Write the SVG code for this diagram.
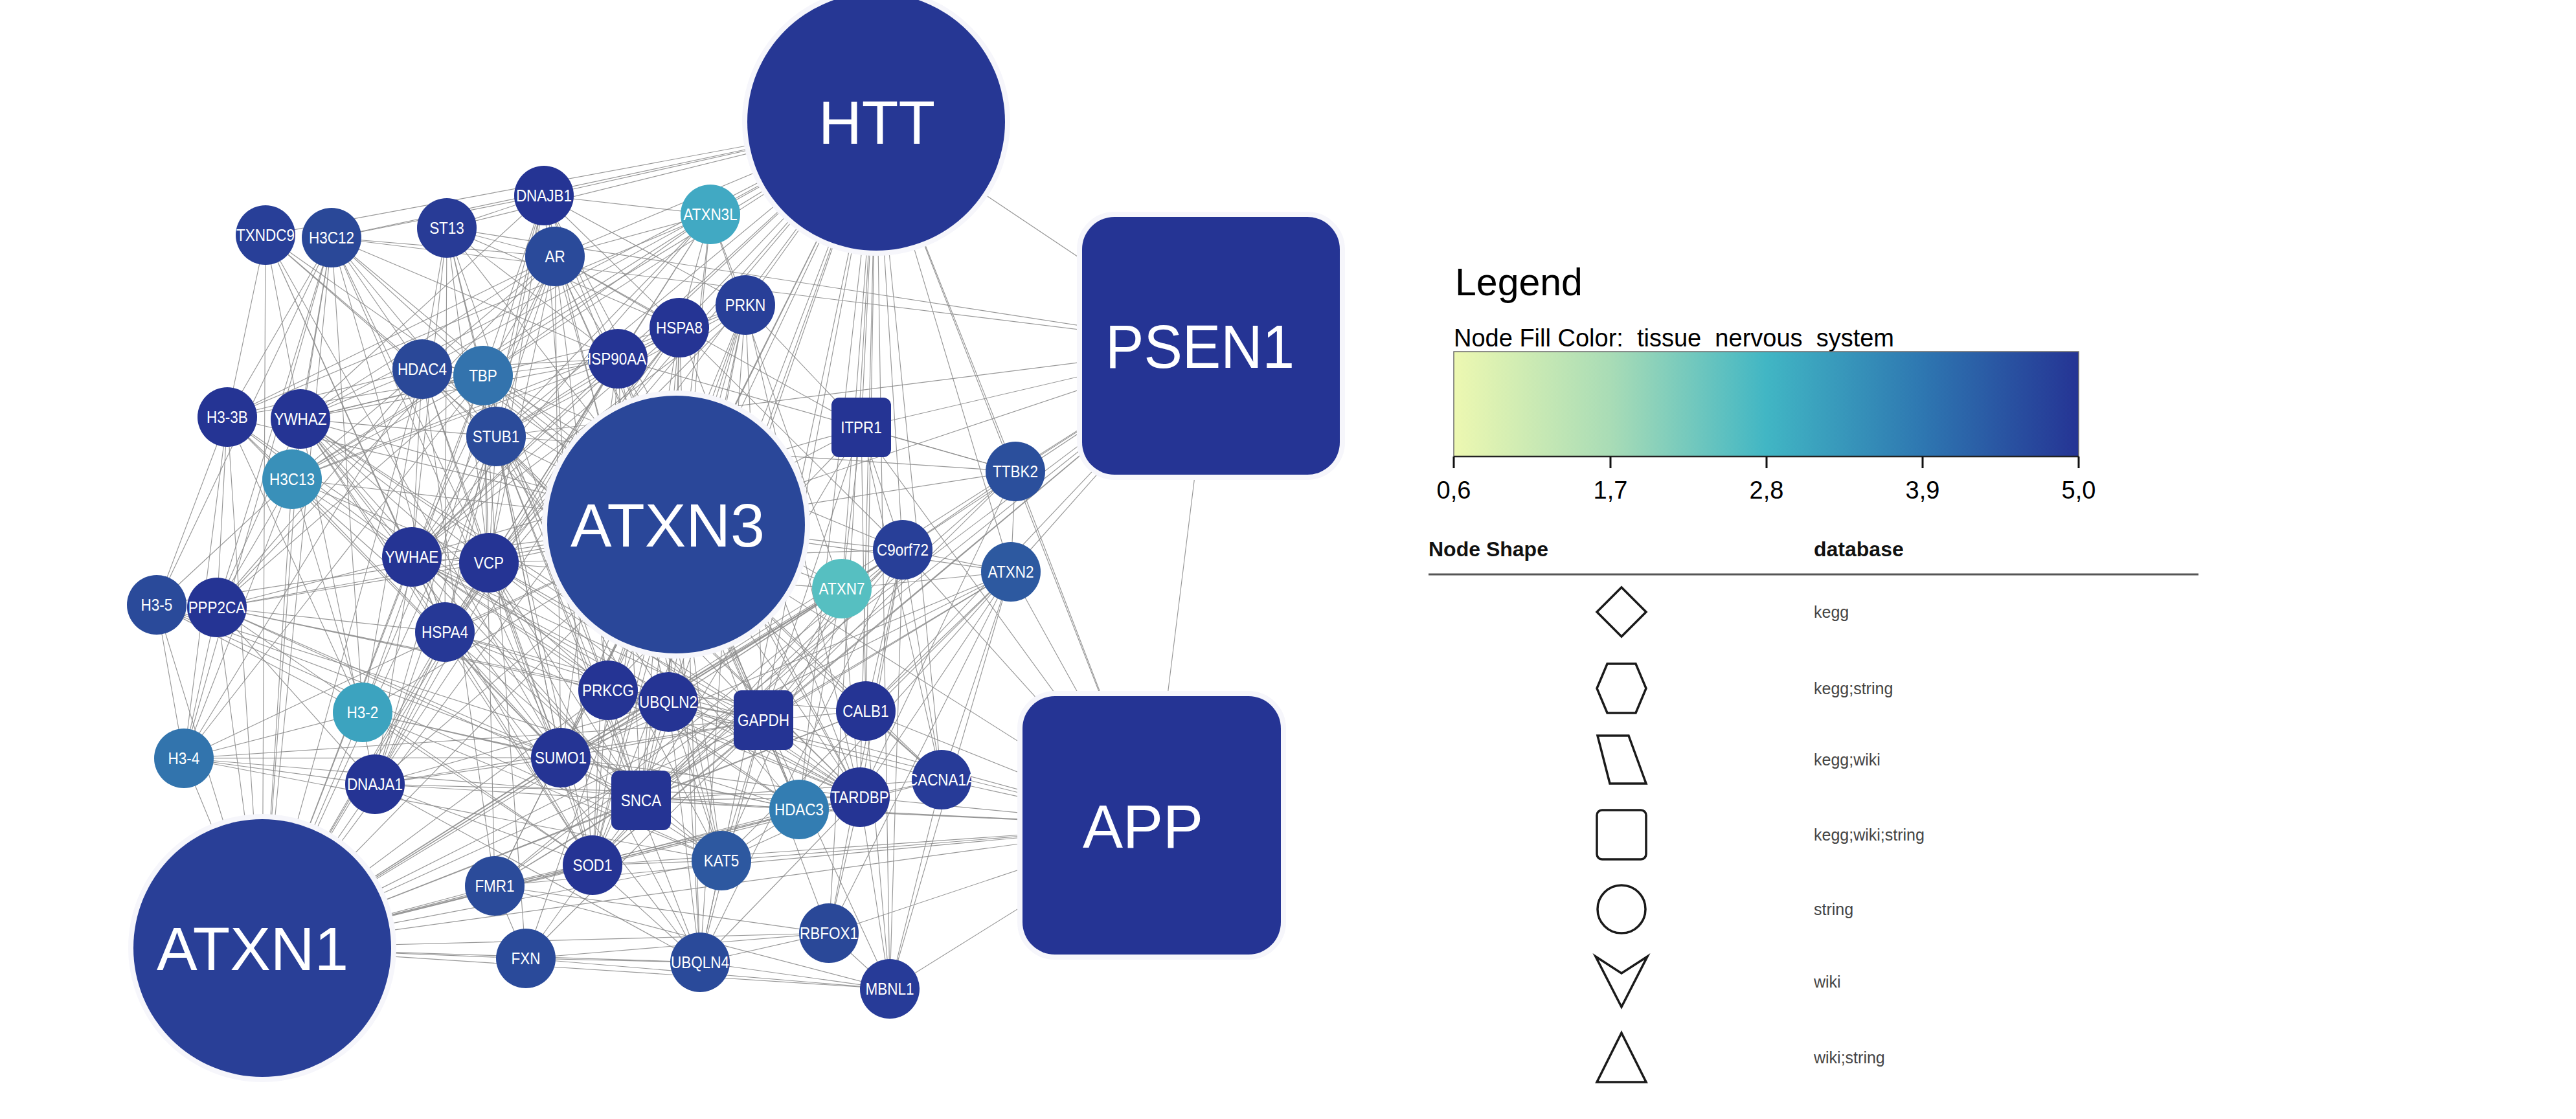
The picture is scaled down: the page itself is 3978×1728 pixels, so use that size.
<svg xmlns="http://www.w3.org/2000/svg" width="3978" height="1728" viewBox="0 0 3978 1728">
<defs>
<style>
.e{fill:none;stroke:#8c8c8c;stroke-width:1.15;stroke-opacity:0.9}
.n text{font-family:"Liberation Sans",Arial,sans-serif;fill:#fff;text-anchor:middle;font-size:25px;transform:scaleX(0.9);transform-box:fill-box;transform-origin:center}
.n text.b{font-size:94px;transform:none}
.h{stroke:#f6f6fb;stroke-width:16;paint-order:stroke}
.lg{font-family:"Liberation Sans",Arial,sans-serif;fill:#000}
.sh{fill:none;stroke:#1a1a1a;stroke-width:3.5;stroke-linejoin:miter}
.rl{font-size:25px;fill:#444}
</style>
<linearGradient id="grad" x1="0" y1="0" x2="1" y2="0">
<stop offset="0" stop-color="#edf8b1"/>
<stop offset="0.25" stop-color="#a9dcb6"/>
<stop offset="0.5" stop-color="#41b6c4"/>
<stop offset="0.75" stop-color="#2e77b1"/>
<stop offset="1" stop-color="#253494"/>
</linearGradient>
<clipPath id="clipHSP"><rect x="908" y="508" width="92" height="92"/></clipPath>
<clipPath id="clipCAC"><rect x="1408" y="1158" width="92" height="92"/></clipPath>
</defs>
<rect width="3978" height="1728" fill="#fff"/>
<g id="edges">
<path class="e" d="M410 363L652 570M410 363L351 644M410 363L464 647M410 363L636 860M410 363L687 976M410 363L766 674M410 363L866 1170"/>
<path class="e" d="M512 367L840 302M512 367L857 396M512 367L652 570M512 367L746 580M512 367L766 674M512 367L351 644M512 367L464 647M512 367L451 740M512 367L242 934M512 367L335 938M512 367L560 1100M512 367L284 1171M512 367L954 554M512 367L755 869M512 367L687 976M512 367L866 1170"/>
<path class="e" d="M690 352L840 302M690 352L857 396M690 352L1049 506M690 352L954 554M690 352L652 570M690 352L746 580M690 352L766 674M690 352L636 860M690 352L755 869M690 352L687 976M690 352L939 1066"/>
<path class="e" d="M840 302L1097 331M840 302L1049 506M840 302L1151 471M840 302L954 554M840 302L746 580M840 302L766 674M840 302L755 869M840 302L687 976M840 302L579 1211M840 302L1032 1084M840 302L915 1336M840 302L1328 1231M840 302L464 647M840 302L857 396"/>
<path class="e" d="M857 396L1097 331M857 396L1049 506M857 396L954 554M857 396L652 570M857 396L746 580M857 396L766 674M857 396L464 647M857 396L636 860M857 396L755 869M857 396L335 938M857 396L866 1170M857 396L1234 1250M857 396L1114 1329M857 396L939 1066M857 396L560 1100M857 396L351 644M857 396L1330 660"/>
<path class="e" d="M1097 331L1049 506M1097 331L1151 471M1097 331L954 554M1097 331L746 580M1097 331L766 674M1097 331L755 869M1097 331L1032 1084M1097 331L1300 909M1097 331L451 740M1097 331L351 644M1097 331L636 860"/>
<path class="e" d="M1049 506L1151 471M1049 506L954 554M1049 506L766 674M1049 506L464 647M1049 506L636 860M1049 506L755 869M1049 506L687 976M1049 506L579 1211M1049 506L1032 1084M1049 506L990 1236M1049 506L915 1336M1049 506L1081 1486M1049 506L1328 1231M1049 506L1394 849M1049 506L451 740"/>
<path class="e" d="M1151 471L954 554M1151 471L766 674M1151 471L636 860M1151 471L755 869M1151 471L1032 1084M1151 471L866 1170M1151 471L990 1236M1151 471L915 1336M1151 471L1179 1112M1151 471L939 1066M1151 471L1328 1231M1151 471L1081 1486M1151 471L1330 660"/>
<path class="e" d="M954 554L652 570M954 554L746 580M954 554L766 674M954 554L464 647M954 554L636 860M954 554L755 869M954 554L687 976M954 554L579 1211M954 554L866 1170M954 554L990 1236M954 554L915 1336M954 554L1114 1329M954 554L1234 1250M954 554L1328 1231M954 554L1179 1112M954 554L1568 728M954 554L451 740"/>
<path class="e" d="M652 570L746 580M652 570L351 644M652 570L464 647M652 570L451 740M652 570L636 860M652 570L755 869M652 570L335 938M652 570L560 1100M652 570L284 1171M652 570L866 1170M652 570L1234 1250M652 570L1328 1231M652 570L764 1368"/>
<path class="e" d="M746 580L766 674M746 580L351 644M746 580L464 647M746 580L451 740M746 580L755 869M746 580L335 938M746 580L560 1100M746 580L284 1171M746 580L939 1066M746 580L866 1170M746 580L990 1236M746 580L764 1368M746 580L812 1480M746 580L1300 909M746 580L1394 849M746 580L1454 1204"/>
<path class="e" d="M766 674L464 647M766 674L636 860M766 674L755 869M766 674L687 976M766 674L579 1211M766 674L1032 1084M766 674L866 1170M766 674L990 1236M766 674L915 1336M766 674L1114 1329M766 674L1081 1486M766 674L1328 1231M766 674L1179 1112M766 674L1568 728"/>
<path class="e" d="M351 644L451 740M351 644L242 934M351 644L335 938M351 644L560 1100M351 644L284 1171M351 644L636 860M351 644L866 1170M351 644L1234 1250"/>
<path class="e" d="M464 647L636 860M464 647L755 869M464 647L335 938M464 647L687 976M464 647L579 1211M464 647L939 1066M464 647L866 1170M464 647L990 1236M464 647L915 1336M464 647L1179 1112M464 647L1328 1231"/>
<path class="e" d="M451 740L242 934M451 740L335 938M451 740L560 1100M451 740L284 1171M451 740L866 1170M451 740L1114 1329M451 740L1234 1250M451 740L755 869"/>
<path class="e" d="M636 860L755 869M636 860L335 938M636 860L687 976M636 860L939 1066M636 860L1032 1084M636 860L990 1236M636 860L915 1336M636 860L1328 1231M636 860L1179 1112M636 860L1330 660M636 860L579 1211"/>
<path class="e" d="M755 869L335 938M755 869L687 976M755 869L579 1211M755 869L1032 1084M755 869L866 1170M755 869L990 1236M755 869L915 1336M755 869L1081 1486M755 869L1328 1231M755 869L1179 1112M755 869L1394 849M755 869L1300 909"/>
<path class="e" d="M242 934L560 1100M242 934L284 1171M242 934L866 1170M242 934L1234 1250M242 934L1114 1329"/>
<path class="e" d="M335 938L687 976M335 938L284 1171M335 938L579 1211M335 938L866 1170M335 938L990 1236M335 938L1179 1112M335 938L915 1336M335 938L939 1066"/>
<path class="e" d="M687 976L579 1211M687 976L1032 1084M687 976L866 1170M687 976L990 1236M687 976L915 1336M687 976L1081 1486M687 976L1328 1231M687 976L1179 1112"/>
<path class="e" d="M560 1100L284 1171M560 1100L866 1170M560 1100L1114 1329M560 1100L1234 1250M560 1100L915 1336"/>
<path class="e" d="M284 1171L866 1170M284 1171L1114 1329M284 1171L1234 1250M284 1171L579 1211M284 1171L1179 1112"/>
<path class="e" d="M579 1211L1032 1084M579 1211L990 1236M579 1211L915 1336M579 1211L1328 1231M579 1211L1179 1112M579 1211L1081 1486M579 1211L866 1170"/>
<path class="e" d="M939 1066L990 1236M939 1066L1454 1204M939 1066L1337 1098M939 1066L1179 1112M939 1066L1330 660M939 1066L1328 1231M939 1066L915 1336"/>
<path class="e" d="M1032 1084L866 1170M1032 1084L990 1236M1032 1084L915 1336M1032 1084L1081 1486M1032 1084L1328 1231M1032 1084L1179 1112M1032 1084L1394 849M1032 1084L1300 909M1032 1084L1114 1329"/>
<path class="e" d="M866 1170L990 1236M866 1170L915 1336M866 1170L1114 1329M866 1170L1234 1250M866 1170L1328 1231M866 1170L1179 1112M866 1170L1300 909M866 1170L1561 883M866 1170L1394 849"/>
<path class="e" d="M990 1236L915 1336M990 1236L1114 1329M990 1236L1234 1250M990 1236L1328 1231M990 1236L1337 1098M990 1236L1179 1112M990 1236L1394 849M990 1236L1330 660M990 1236L1454 1204M990 1236L1568 728"/>
<path class="e" d="M764 1368L915 1336M764 1368L812 1480M764 1368L1374 1527M764 1368L1280 1441M764 1368L1328 1231M764 1368L1179 1112M764 1368L1561 883M764 1368L1394 849"/>
<path class="e" d="M915 1336L812 1480M915 1336L1114 1329M915 1336L1328 1231M915 1336L1179 1112M915 1336L1394 849M915 1336L1081 1486M915 1336L1300 909"/>
<path class="e" d="M812 1480L1081 1486M812 1480L1374 1527M812 1480L1179 1112M812 1480L1280 1441"/>
<path class="e" d="M1114 1329L1081 1486M1114 1329L1234 1250M1114 1329L1328 1231M1114 1329L1179 1112M1114 1329L1300 909M1114 1329L1561 883"/>
<path class="e" d="M1081 1486L1280 1441M1081 1486L1374 1527M1081 1486L1328 1231M1081 1486L1179 1112M1081 1486L1394 849"/>
<path class="e" d="M1280 1441L1374 1527M1280 1441L1328 1231M1280 1441L1561 883M1280 1441L1394 849"/>
<path class="e" d="M1374 1527L1328 1231M1374 1527L1454 1204M1374 1527L1561 883M1374 1527L1394 849M1374 1527L1337 1098"/>
<path class="e" d="M1234 1250L1328 1231M1234 1250L1179 1112M1234 1250L1300 909M1234 1250L1561 883"/>
<path class="e" d="M1328 1231L1454 1204M1328 1231L1179 1112M1328 1231L1300 909M1328 1231L1561 883M1328 1231L1394 849M1328 1231L1568 728"/>
<path class="e" d="M1454 1204L1337 1098M1454 1204L1561 883M1454 1204L1394 849M1454 1204L1330 660"/>
<path class="e" d="M1337 1098L1179 1112M1337 1098L1394 849M1337 1098L1330 660M1337 1098L1561 883"/>
<path class="e" d="M1179 1112L1300 909M1179 1112L1394 849M1179 1112L1568 728M1179 1112L1330 660M1179 1112L1561 883"/>
<path class="e" d="M1300 909L1561 883M1300 909L1394 849M1300 909L1330 660M1561 883L1394 849M1561 883L1568 728M1394 849L1568 728M1394 849L1330 660M1568 728L1330 660"/>
<path class="e" d="M1353 188L410 363M1353 188L512 367M1353 188L690 352M1353 188L840 302M1353 188L857 396M1353 188L1097 331M1353 188L1049 506M1353 188L1151 471M1353 188L954 554M1353 188L652 570M1353 188L746 580M1353 188L766 674M1353 188L464 647M1353 188L451 740M1353 188L636 860M1353 188L755 869M1353 188L687 976M1353 188L939 1066M1353 188L1032 1084M1353 188L866 1170M1353 188L990 1236M1353 188L915 1336M1353 188L1114 1329M1353 188L1280 1441M1353 188L1374 1527M1353 188L1234 1250M1353 188L1328 1231M1353 188L1454 1204M1353 188L1337 1098M1353 188L1179 1112M1353 188L1300 909M1353 188L1561 883M1353 188L1394 849M1353 188L1568 728M1353 188L1330 660M1353 188L1044 810M1353 188L405 1464M1353 188L1870 534M1353 188L1778 1275M1353 188L1081 1486M1353 188L764 1368"/>
<path class="e" d="M1044 810L410 363M1044 810L512 367M1044 810L690 352M1044 810L840 302M1044 810L857 396M1044 810L1097 331M1044 810L1049 506M1044 810L1151 471M1044 810L954 554M1044 810L652 570M1044 810L746 580M1044 810L766 674M1044 810L351 644M1044 810L464 647M1044 810L451 740M1044 810L636 860M1044 810L755 869M1044 810L242 934M1044 810L335 938M1044 810L687 976M1044 810L560 1100M1044 810L284 1171M1044 810L579 1211M1044 810L939 1066M1044 810L1032 1084M1044 810L866 1170M1044 810L990 1236M1044 810L764 1368M1044 810L915 1336M1044 810L812 1480M1044 810L1114 1329M1044 810L1081 1486M1044 810L1280 1441M1044 810L1374 1527M1044 810L1234 1250M1044 810L1328 1231M1044 810L1454 1204M1044 810L1337 1098M1044 810L1179 1112M1044 810L1300 909M1044 810L1561 883M1044 810L1394 849M1044 810L1568 728M1044 810L1330 660M1044 810L405 1464M1044 810L1870 534M1044 810L1778 1275"/>
<path class="e" d="M405 1464L410 363M405 1464L512 367M405 1464L351 644M405 1464L464 647M405 1464L451 740M405 1464L652 570M405 1464L242 934M405 1464L335 938M405 1464L560 1100M405 1464L284 1171M405 1464L579 1211M405 1464L687 976M405 1464L636 860M405 1464L755 869M405 1464L766 674M405 1464L746 580M405 1464L866 1170M405 1464L764 1368M405 1464L812 1480M405 1464L915 1336M405 1464L990 1236M405 1464L1081 1486M405 1464L1114 1329M405 1464L1374 1527M405 1464L1280 1441M405 1464L1234 1250M405 1464L1328 1231M405 1464L1179 1112M405 1464L1032 1084M405 1464L939 1066M405 1464L1337 1098M405 1464L1454 1204M405 1464L1300 909M405 1464L1561 883M405 1464L1394 849M405 1464L954 554M405 1464L1778 1275M405 1464L1870 534"/>
<path class="e" d="M1870 534L1778 1275M1870 534L1330 660M1870 534L1179 1112M1870 534L990 1236M1870 534L1568 728M1870 534L1394 849M1870 534L1561 883M1870 534L1337 1098M1870 534L690 352M1870 534L512 367M1870 534L766 674M1870 534L915 1336M1870 534L764 1368"/>
<path class="e" d="M1778 1275L1179 1112M1778 1275L990 1236M1778 1275L1337 1098M1778 1275L1454 1204M1778 1275L1328 1231M1778 1275L1234 1250M1778 1275L1114 1329M1778 1275L1561 883M1778 1275L1394 849M1778 1275L1568 728M1778 1275L915 1336M1778 1275L764 1368M1778 1275L1330 660M1778 1275L939 1066M1778 1275L1280 1441M1778 1275L1374 1527"/>
</g>
<g id="nodes" class="n">
<g id="n-TXNDC9"><circle cx="410" cy="363" r="46" fill="#283f98"/><text x="410" y="372">TXNDC9</text></g>
<g id="n-H3C12"><circle cx="512" cy="367" r="46" fill="#2a4898"/><text x="512" y="376">H3C12</text></g>
<g id="n-ST13"><circle cx="690" cy="352" r="46" fill="#283b96"/><text x="690" y="361">ST13</text></g>
<g id="n-DNAJB1"><circle cx="840" cy="302" r="46" fill="#253494"/><text x="840" y="311">DNAJB1</text></g>
<g id="n-AR"><circle cx="857" cy="396" r="46" fill="#2a4a9a"/><text x="857" y="405">AR</text></g>
<g id="n-ATXN3L"><circle cx="1097" cy="331" r="46" fill="#41a9c3"/><text x="1097" y="340">ATXN3L</text></g>
<g id="n-HSPA8"><circle cx="1049" cy="506" r="46" fill="#253494"/><text x="1049" y="515">HSPA8</text></g>
<g id="n-PRKN"><circle cx="1151" cy="471" r="46" fill="#283f98"/><text x="1151" y="480">PRKN</text></g>
<g id="n-HSP90AA1"><circle cx="954" cy="554" r="46" fill="#253494"/><g clip-path="url(#clipHSP)"><text x="954" y="563">HSP90AA1</text></g></g>
<g id="n-HDAC4"><circle cx="652" cy="570" r="46" fill="#2a4898"/><text x="652" y="579">HDAC4</text></g>
<g id="n-TBP"><circle cx="746" cy="580" r="46" fill="#3373ad"/><text x="746" y="589">TBP</text></g>
<g id="n-STUB1"><circle cx="766" cy="674" r="46" fill="#2b4b9a"/><text x="766" y="683">STUB1</text></g>
<g id="n-H3-3B"><circle cx="351" cy="644" r="46" fill="#253494"/><text x="351" y="653">H3-3B</text></g>
<g id="n-YWHAZ"><circle cx="464" cy="647" r="46" fill="#253494"/><text x="464" y="656">YWHAZ</text></g>
<g id="n-H3C13"><circle cx="451" cy="740" r="46" fill="#3990b9"/><text x="451" y="749">H3C13</text></g>
<g id="n-YWHAE"><circle cx="636" cy="860" r="46" fill="#253494"/><text x="636" y="869">YWHAE</text></g>
<g id="n-VCP"><circle cx="755" cy="869" r="46" fill="#253494"/><text x="755" y="878">VCP</text></g>
<g id="n-H3-5"><circle cx="242" cy="934" r="46" fill="#2a4a9a"/><text x="242" y="943">H3-5</text></g>
<g id="n-PPP2CA"><circle cx="335" cy="938" r="46" fill="#253494"/><text x="335" y="947">PPP2CA</text></g>
<g id="n-HSPA4"><circle cx="687" cy="976" r="46" fill="#263896"/><text x="687" y="985">HSPA4</text></g>
<g id="n-H3-2"><circle cx="560" cy="1100" r="46" fill="#3ca3bf"/><text x="560" y="1109">H3-2</text></g>
<g id="n-H3-4"><circle cx="284" cy="1171" r="46" fill="#3274ad"/><text x="284" y="1180">H3-4</text></g>
<g id="n-DNAJA1"><circle cx="579" cy="1211" r="46" fill="#253494"/><text x="579" y="1220">DNAJA1</text></g>
<g id="n-PRKCG"><circle cx="939" cy="1066" r="46" fill="#253494"/><text x="939" y="1075">PRKCG</text></g>
<g id="n-UBQLN2"><circle cx="1032" cy="1084" r="46" fill="#253494"/><text x="1032" y="1093">UBQLN2</text></g>
<g id="n-SUMO1"><circle cx="866" cy="1170" r="46" fill="#253494"/><text x="866" y="1179">SUMO1</text></g>
<g id="n-SNCA"><rect x="944" y="1190" width="92" height="92" rx="12" fill="#253494"/><text x="990" y="1245">SNCA</text></g>
<g id="n-FMR1"><circle cx="764" cy="1368" r="46" fill="#2b4b9a"/><text x="764" y="1377">FMR1</text></g>
<g id="n-SOD1"><circle cx="915" cy="1336" r="46" fill="#253494"/><text x="915" y="1345">SOD1</text></g>
<g id="n-FXN"><circle cx="812" cy="1480" r="46" fill="#2a4a9a"/><text x="812" y="1489">FXN</text></g>
<g id="n-KAT5"><circle cx="1114" cy="1329" r="46" fill="#2d58a0"/><text x="1114" y="1338">KAT5</text></g>
<g id="n-UBQLN4"><circle cx="1081" cy="1486" r="46" fill="#2a4a9a"/><text x="1081" y="1495">UBQLN4</text></g>
<g id="n-RBFOX1"><circle cx="1280" cy="1441" r="46" fill="#2a4898"/><text x="1280" y="1450">RBFOX1</text></g>
<g id="n-MBNL1"><circle cx="1374" cy="1527" r="46" fill="#273b98"/><text x="1374" y="1536">MBNL1</text></g>
<g id="n-HDAC3"><circle cx="1234" cy="1250" r="46" fill="#337db2"/><text x="1234" y="1259">HDAC3</text></g>
<g id="n-TARDBP"><circle cx="1328" cy="1231" r="46" fill="#253494"/><text x="1328" y="1240">TARDBP</text></g>
<g id="n-CACNA1A"><circle cx="1454" cy="1204" r="46" fill="#273b98"/><g clip-path="url(#clipCAC)"><text x="1454" y="1213">CACNA1A</text></g></g>
<g id="n-CALB1"><circle cx="1337" cy="1098" r="46" fill="#253494"/><text x="1337" y="1107">CALB1</text></g>
<g id="n-GAPDH"><rect x="1133" y="1066" width="92" height="92" rx="12" fill="#253494"/><text x="1179" y="1121">GAPDH</text></g>
<g id="n-ATXN7"><circle cx="1300" cy="909" r="46" fill="#56bfc1"/><text x="1300" y="918">ATXN7</text></g>
<g id="n-ATXN2"><circle cx="1561" cy="883" r="46" fill="#2d59a0"/><text x="1561" y="892">ATXN2</text></g>
<g id="n-C9orf72"><circle cx="1394" cy="849" r="46" fill="#283f98"/><text x="1394" y="858">C9orf72</text></g>
<g id="n-TTBK2"><circle cx="1568" cy="728" r="46" fill="#2b4f9c"/><text x="1568" y="737">TTBK2</text></g>
<g id="n-ITPR1"><rect x="1284" y="614" width="92" height="92" rx="12" fill="#253494"/><text x="1330" y="669">ITPR1</text></g>
<g id="n-HTT"><circle class="h" cx="1353" cy="188" r="199" fill="#263794"/><text class="b" x="1354" y="222" textLength="180" lengthAdjust="spacingAndGlyphs">HTT</text></g>
<g id="n-ATXN3"><circle class="h" cx="1044" cy="810" r="199" fill="#2a4799"/><text class="b" x="1031" y="844" textLength="300" lengthAdjust="spacingAndGlyphs">ATXN3</text></g>
<g id="n-ATXN1"><circle class="h" cx="405" cy="1464" r="199" fill="#293f97"/><text class="b" x="390" y="1498" textLength="296" lengthAdjust="spacingAndGlyphs">ATXN1</text></g>
<g id="n-PSEN1"><rect class="h" x="1671" y="335" width="398" height="398" rx="50" fill="#253494"/><text class="b" x="1853" y="568" textLength="292" lengthAdjust="spacingAndGlyphs">PSEN1</text></g>
<g id="n-APP"><rect class="h" x="1579" y="1075" width="399" height="399" rx="50" fill="#253494"/><text class="b" x="1765" y="1309" textLength="186" lengthAdjust="spacingAndGlyphs">APP</text></g>
</g>
<g id="legend" class="lg">
<text x="2247" y="456" font-size="59">Legend</text>
<text x="2245" y="535" font-size="38" xml:space="preserve" style="white-space:pre">Node Fill Color:  tissue  nervous  system</text>
<rect x="2245" y="543" width="965" height="162" fill="url(#grad)" stroke="#6a6a6a" stroke-width="1.5"/>
<path d="M2245 705H3210" stroke="#222" stroke-width="2.5" fill="none"/>
<path d="M2245 705V723M2487 705V723M2728 705V723M2969 705V723M3210 705V723" stroke="#111" stroke-width="3" fill="none"/>
<g font-size="38" text-anchor="middle">
<text x="2245" y="770">0,6</text>
<text x="2487" y="770">1,7</text>
<text x="2728" y="770">2,8</text>
<text x="2969" y="770">3,9</text>
<text x="3210" y="770">5,0</text>
</g>
<text x="2206" y="859" font-size="32" font-weight="bold" fill="#111">Node Shape</text>
<text x="2801" y="859" font-size="32" font-weight="bold" fill="#111">database</text>
<line x1="2206" y1="887" x2="3395" y2="887" stroke="#555" stroke-width="3"/>
<path class="sh" d="M2504 907L2542 945L2504 983L2466 945Z"/>
<path class="sh" d="M2466 1063L2482 1025L2526 1025L2542 1063L2526 1101L2482 1101Z"/>
<path class="sh" d="M2467 1136L2515 1136L2542 1210L2486 1210Z"/>
<rect class="sh" x="2466" y="1251" width="76" height="76" rx="8"/>
<circle class="sh" cx="2504" cy="1404" r="37"/>
<path class="sh" d="M2464 1477L2504 1503L2544 1477L2504 1555Z"/>
<path class="sh" d="M2504 1595L2542 1671L2466 1671Z"/>
<text class="rl" x="2801" y="954">kegg</text>
<text class="rl" x="2801" y="1072">kegg;string</text>
<text class="rl" x="2801" y="1182">kegg;wiki</text>
<text class="rl" x="2801" y="1298">kegg;wiki;string</text>
<text class="rl" x="2801" y="1413">string</text>
<text class="rl" x="2801" y="1525">wiki</text>
<text class="rl" x="2801" y="1642">wiki;string</text>
</g>
</svg>
